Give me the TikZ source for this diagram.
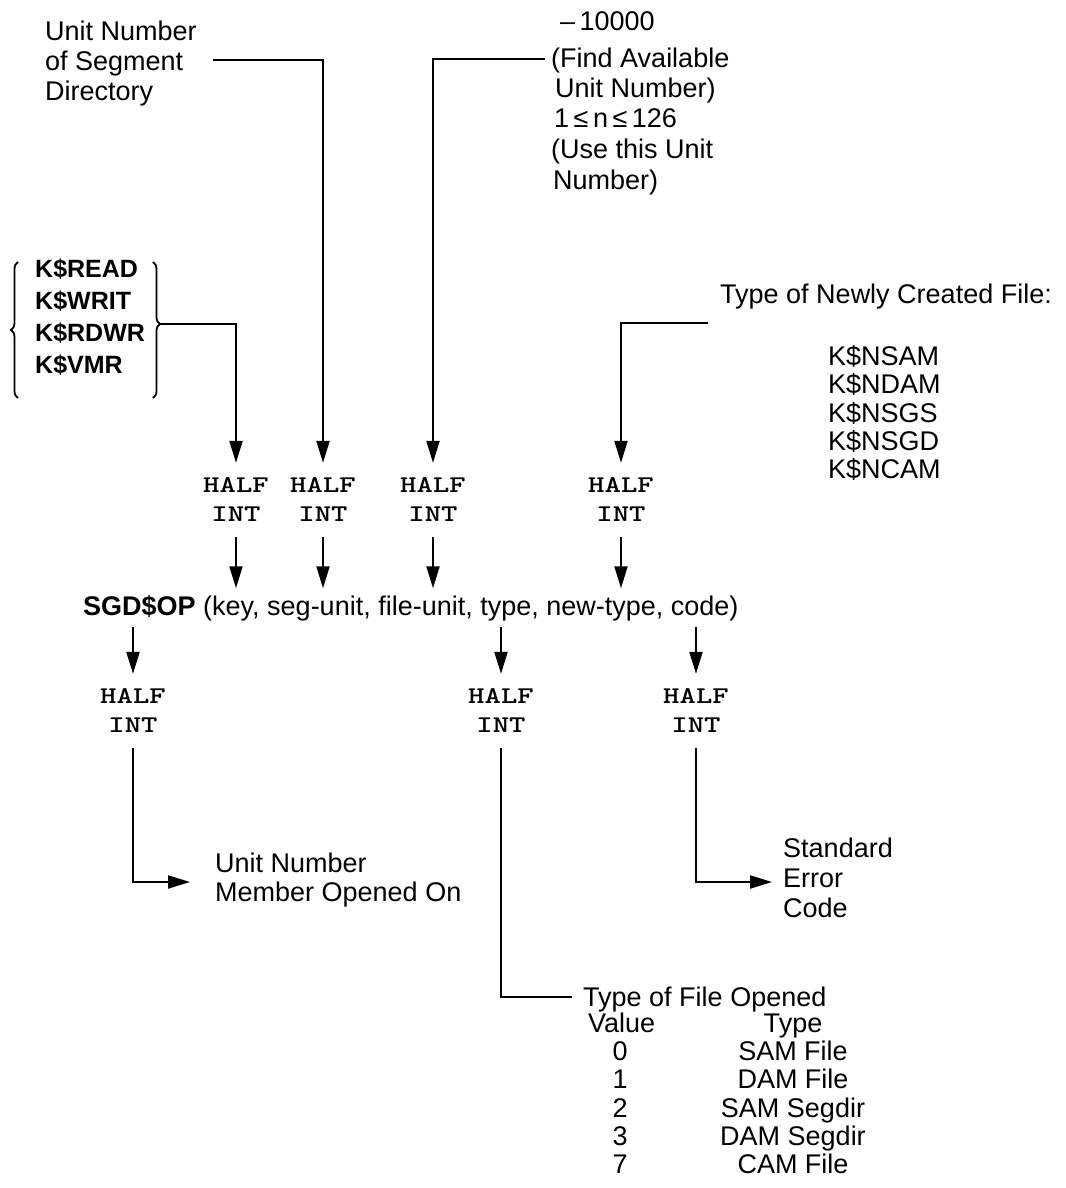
\documentclass[tikz,border=0pt]{standalone}
\usepackage{fontspec}
\setmainfont{Liberation Sans}
\usepackage{graphicx}
\usetikzlibrary{arrows.meta,decorations.pathreplacing}
\newcommand\HI{\scalebox{1.3}[1]{HALF}\\\scalebox{1.3}[1]{INT}}
\begin{document}
\begin{tikzpicture}[x=1pt,y=-1pt,
  every node/.style={inner sep=0pt},
  txt/.style={font=\fontsize{27}{30}\selectfont, anchor=base west},
  ctxt/.style={font=\fontsize{27}{30}\selectfont, anchor=base},
  kb/.style={font=\fontsize{25}{28}\selectfont\bfseries, anchor=base west},
  hi/.style={font=\fontsize{24}{29}\selectfont\ttfamily\bfseries, align=center, inner xsep=0pt, inner ysep=15pt},
  conn/.style={line width=2.1pt},
  arr/.style={conn, -{Triangle[length=22pt,width=13pt]}},
  brc/.style={line width=1.8pt, decorate, decoration={brace, amplitude=7pt}}
]
\useasboundingbox (0,0) rectangle (1065,1188);

% segment directory text
\node[txt] (segA) at (45,41) {Unit Number};
\node[txt] (segB) at (45,71) {of Segment};
\node[txt] (segC) at (45,101) {Directory};

% file-unit text
\node[txt] (fu1) at (560,31) {–\,10000};
\node[txt] (fu2) at (551,68) {(Find Available};
\node[txt] (fu3) at (555,98) {Unit Number)};
\node[txt] (fu4) at (554,128) {1\,≤\,n\,≤\,126};
\node[txt] (fu5) at (551,158) {(Use this Unit};
\node[txt] (fu6) at (553,189) {Number)};

% key list
\node[kb] (k1) at (35,277) {K\$READ};
\node[kb] (k2) at (35,309) {K\$WRIT};
\node[kb] (k3) at (35,341) {K\$RDWR};
\node[kb] (k4) at (35,373) {K\$VMR};
\draw[brc, decoration={aspect=0.5}] (18,398) -- (18,262);
\draw[brc, decoration={aspect=0.456}] (153,262) -- (153,398);

% new type text
\node[txt] (nt) at (720,303) {Type of Newly Created File:};
\node[txt] (n1) at (828,365) {K\$NSAM};
\node[txt] (n2) at (828,393) {K\$NDAM};
\node[txt] (n3) at (828,422) {K\$NSGS};
\node[txt] (n4) at (828,450) {K\$NSGD};
\node[txt] (n5) at (828,478) {K\$NCAM};

% HALF INT (inputs)
\node[hi] (h1) at (236,500) {\HI};
\node[hi] (h2) at (323,500) {\HI};
\node[hi] (h3) at (433,500) {\HI};
\node[hi] (h4) at (621,500) {\HI};

% call line
\node[font=\fontsize{27}{30}\selectfont, anchor=base west, inner ysep=6.5pt] (sgd) at (83,615)
  {\textbf{SGD\$OP} (key, seg-unit, file-unit, type, new-type, code)};

% HALF INT (outputs)
\node[hi] (b1) at (133,711) {\HI};
\node[hi] (b2) at (501,711) {\HI};
\node[hi] (b3) at (696,711) {\HI};

% output texts
\node[txt] (uo1) at (215,872) {Unit Number};
\node[txt] (uo2) at (215,901) {Member Opened On};
\node[txt] (so1) at (783,857) {Standard};
\node[txt] (so2) at (783,887) {Error};
\node[txt] (so3) at (783,917) {Code};

\node[txt] (ft) at (583,1006) {Type of File Opened};
\node[txt] (fv) at (588,1032) {Value};
\node[ctxt] (fy) at (793,1032) {Type};
\foreach \v/\t/\y in {0/SAM File/1060.3, 1/DAM File/1088.6, 2/SAM Segdir/1117, 3/DAM Segdir/1145.3, 7/CAM File/1173.5}{
  \node[ctxt] (v\v) at (620,\y) {\v};
  \node[ctxt] (t\v) at (793,\y) {\t};
}

% connectors
\coordinate (keyin) at (160,324);
\coordinate (segin) at (213,60);
\coordinate (fuin) at (545,59);
\coordinate (ntin) at (708,323);
\draw[arr] (keyin) -| (h1.north);
\draw[arr] (segin) -| (h2.north);
\draw[arr] (fuin) -| (h3.north);
\draw[arr] (ntin) -| (h4.north);
\foreach \h in {h1,h2,h3,h4}{
  \draw[arr] (\h.south) -- (\h.south |- sgd.north);
}
\foreach \b in {b1,b2,b3}{
  \draw[arr] (sgd.south -| \b.north) -- (\b.north);
}
\coordinate (uo) at (190,882);
\coordinate (fo) at (572,997);
\coordinate (so) at (772,882);
\draw[arr] (b1.south) |- (uo);
\draw[conn] (b2.south) |- (fo);
\draw[arr] (b3.south) |- (so);
\end{tikzpicture}
\end{document}
